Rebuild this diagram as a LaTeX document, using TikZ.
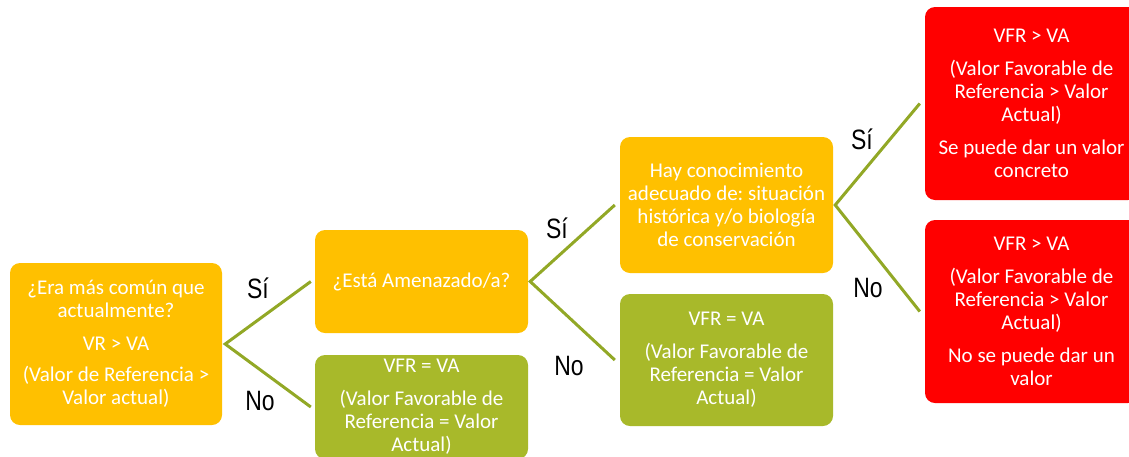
\documentclass[tikz,border=0pt]{standalone}
\usepackage{fontspec}
\setmainfont{Carlito}
\newfontfamily\labelfont[FakeStretch=0.82]{Liberation Sans}
\frenchspacing
\definecolor{boxorange}{RGB}{255,192,0}
\definecolor{boxgreen}{RGB}{168,185,42}
\definecolor{boxred}{RGB}{255,0,0}
\definecolor{linegreen}{RGB}{146,168,38}
\tikzset{
  box/.style={rectangle,rounded corners=10pt,text=white,align=center,inner sep=0pt,
    font=\fontsize{21}{23}\selectfont},
  branch/.style={draw=linegreen,line width=3pt},
  answer/.style={font=\labelfont\fontsize{28}{30}\selectfont,inner sep=0pt}
}
\begin{document}
\begin{tikzpicture}[x=1pt,y=-1pt]
  \clip (0,0) rectangle (1129,456);
  % first question
  \node[box,fill=boxorange,minimum width=212pt,minimum height=162pt] (era) at (116,344)
    {¿Era más común que\\actualmente?\\[10pt]VR > VA\\[8pt](Valor de Referencia >\\Valor actual)};
  % second column
  \node[box,fill=boxorange,minimum width=213pt,minimum height=103pt] (amenaza) at (421.5,281.5)
    {¿Está Amenazado/a?};
  \node[box,fill=boxgreen,minimum width=213pt,minimum height=104pt] (igualA) at (421.5,407)
    {VFR = VA\\[10pt](Valor Favorable de\\Referencia = Valor\\Actual)};
  % third column
  \node[box,fill=boxorange,minimum width=213pt,minimum height=136pt] (conoce) at (726.5,205)
    {Hay conocimiento\\adecuado de: situación\\histórica y/o biología\\de conservación};
  \node[box,fill=boxgreen,minimum width=213pt,minimum height=132pt] (igualB) at (726.5,360)
    {VFR = VA\\[10pt](Valor Favorable de\\Referencia = Valor\\Actual)};
  % fourth column
  \node[box,fill=boxred,minimum width=213pt,minimum height=193pt] (concreto) at (1031.5,103.5)
    {VFR > VA\\[10pt](Valor Favorable de\\Referencia > Valor\\Actual)\\[10pt]Se puede dar un valor\\concreto};
  \node[box,fill=boxred,minimum width=213pt,minimum height=183pt] (sinvalor) at (1031.5,311.5)
    {VFR > VA\\[10pt](Valor Favorable de\\Referencia > Valor\\Actual)\\[10pt]No se puede dar un\\valor};
  % branches
  \coordinate (v1) at ([xshift=3pt]era.east);
  \coordinate (v2) at ([xshift=2pt]amenaza.east);
  \coordinate (v3) at ([xshift=2pt]conoce.east);
  \draw[branch] ([xshift=-4pt]amenaza.west) -- (v1) -- ([xshift=-4pt]igualA.west);
  \draw[branch] ([xshift=-5pt]conoce.west) -- (v2) -- ([xshift=-5pt]igualB.west);
  \draw[branch] ([xshift=-5pt]concreto.west) -- (v3) -- ([xshift=-5pt]sinvalor.west);
  % answers
  \node[answer] (si1) at (258,288) {Sí};
  \node[answer] (no1) at (260,401) {No};
  \node[answer] (si2) at (557,228) {Sí};
  \node[answer] (no2) at (569,366) {No};
  \node[answer] (si3) at (862,139) {Sí};
  \node[answer] (no3) at (868,288) {No};
\end{tikzpicture}
\end{document}
